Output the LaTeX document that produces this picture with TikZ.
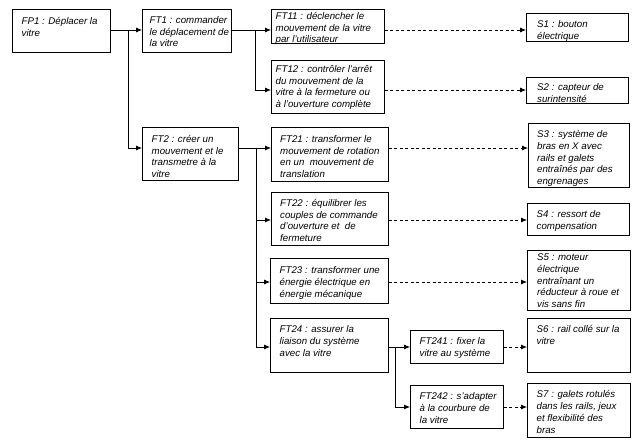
\documentclass[tikz,border=0pt]{standalone}
\usepackage{fontspec}
\setmainfont{Liberation Sans}
\usetikzlibrary{arrows.meta}
\tikzset{
  boxs/.style={draw=black, line width=0.75pt, fill=white, rectangle, inner sep=0pt},
  txt/.style={inner sep=0pt, align=left, font=\itshape\fontsize{9.7}{11.9}\selectfont},
  arr/.style={draw=black, line width=0.75pt, -{Latex[length=6pt,width=5pt]}},
  dsh/.style={arr, dash pattern=on 3pt off 2.5pt},
}
% \bx{name}{x}{y}{w}{h}{left pad}{top pad}{text}
\newcommand{\bx}[8]{%
  \node[boxs, minimum width=#4pt, minimum height=#5pt, anchor=north west] (#1) at (#2,#3) {};
  \node[txt, anchor=north west] (#1t) at ([xshift=#6pt,yshift=-#7pt]#1.north west) {\rule{0pt}{9pt}#8};%
}
\begin{document}
\begin{tikzpicture}[x=1pt,y=-1pt]
\fill[white] (0,0) rectangle (640,441);
\useasboundingbox (0,0) rectangle (640,441);

% rows of the connectors
\coordinate (r1) at (0,30);
\coordinate (r2) at (0,90);
\coordinate (r3) at (0,148);
\coordinate (r4) at (0,220);
\coordinate (r5) at (0,282);
\coordinate (r6) at (0,347);
\coordinate (r7) at (0,407);

\bx{FP1}{12}{9}{98}{43}{9.5}{6}{FP1 : Déplacer la\\vitre}
\bx{FT1}{142}{9}{89}{43}{7.5}{5}{FT1 : commander\\le déplacement de\\la vitre}
\bx{FT2}{142}{127}{96}{53}{9.5}{6}{FT2 : créer un\\mouvement et le\\transmetre à la\\vitre}
\bx{FT11}{271}{9}{113}{34}{4.5}{1}{FT11 : déclencher le\\mouvement de la vitre\\par l'utilisateur}
\bx{FT12}{271}{60}{113}{53}{4.5}{3}{FT12 : contrôler l'arrêt\\du mouvement de la\\vitre à la fermeture ou\\à l'ouverture complète}
\bx{FT21}{271}{127}{117}{54}{9}{6}{FT21 : transformer le\\mouvement de rotation\\en un\ \ mouvement de\\translation}
\bx{FT22}{271}{192}{117}{53}{9}{5}{FT22 : équilibrer les\\couples de commande\\d'ouverture et\ \ de\\fermeture}
\bx{FT23}{270}{258}{118}{45}{9.5}{6}{FT23 : transformer une\\énergie électrique en\\énergie mécanique}
\bx{FT24}{270}{318}{118}{54}{9.5}{5}{FT24 : assurer la\\liaison du système\\avec la vitre}
\bx{FT241}{410}{330}{93}{33}{9.5}{5.5}{FT241 : fixer la\\vitre au système}
\bx{FT242}{410}{385}{93}{43}{9.5}{5}{FT242 : s'adapter\\à la courbure de\\la vitre}
\bx{S1}{526}{13}{102}{28}{11}{5}{S1 : bouton\\électrique}
\bx{S2}{526}{77}{102}{26}{11}{4}{S2 : capteur de\\surintensité}
\bx{S3}{528}{123}{101}{64}{9}{5}{S3 : système de\\bras en X avec\\rails et galets\\entraînés par des\\engrenages}
\bx{S4}{527}{203}{102}{32}{9.5}{5}{S4 : ressort de\\compensation}
\bx{S5}{527}{250}{103}{60}{10}{1}{S5 : moteur\\électrique\\entraînant un\\réducteur à roue et\\vis sans fin}
\bx{S6}{527}{318}{103}{54}{9.5}{5}{S6 : rail collé sur la\\vitre}
\bx{S7}{527}{383}{103}{54}{9.5}{5.5}{S7 : galets rotulés\\dans les rails, jeux\\et flexibilité des\\bras}

% junction points
\coordinate (j1) at (128,30);
\coordinate (j2) at (255,30);
\coordinate (j3) at (256,148);
\coordinate (j4) at (395,347);

% solid tree connectors
\draw[arr] (FP1.east |- r1) -- (FT1.west |- r1);
\draw[arr] (j1) |- (FT2.west |- r3);
\draw[arr] (FT1.east |- r1) -- (FT11.west |- r1);
\draw[arr] (j2) |- (FT12.west |- r2);
\draw[arr] (FT2.east |- r3) -- (FT21.west |- r3);
\draw[arr] (j3) |- (FT22.west |- r4);
\draw[arr] (j3) |- (FT23.west |- r5);
\draw[arr] (j3) |- (FT24.west |- r6);
\draw[arr] (FT24.east |- r6) -- (FT241.west |- r6);
\draw[arr] (j4) |- (FT242.west |- r7);

% dashed solution connectors
\draw[dsh] (FT11.east |- r1) -- (S1.west |- r1);
\draw[dsh] (FT12.east |- r2) -- (S2.west |- r2);
\draw[dsh] (FT21.east |- r3) -- (S3.west |- r3);
\draw[dsh] (FT22.east |- r4) -- (S4.west |- r4);
\draw[dsh] (FT23.east |- r5) -- (S5.west |- r5);
\draw[dsh] (FT241.east |- r6) -- (S6.west |- r6);
\draw[dsh] (FT242.east |- r7) -- (S7.west |- r7);
\end{tikzpicture}
\end{document}
